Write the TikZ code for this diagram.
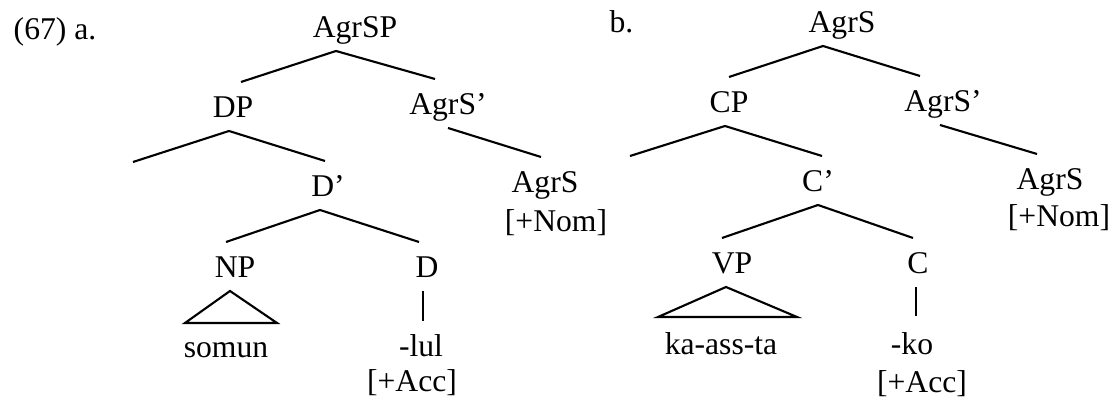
\documentclass[tikz,border=0pt]{standalone}
\usepackage{fontspec}
\setmainfont{Liberation Serif}
\usetikzlibrary{positioning, calc}

\begin{document}
\begin{tikzpicture}[
  font=\fontsize{9}{10.8}\selectfont,
  cat/.style={
    inner sep=0pt, outer sep=0pt, anchor=base,
    text height=3.6mm, text depth=1.3mm
  },
  leaf/.style={inner sep=0pt, anchor=base},
  branch/.style={line width=0.6pt, black},
]

% Frame
\useasboundingbox (0,0) rectangle (11.17,4.02);

% =============================================
% (67) a.
% =============================================
\node[leaf] (ex-a) at (0.55,3.62) {(67) a.};

\node[cat] (agrsp) at (3.55,3.64) {AgrSP};
\node[cat] (dp) at (2.33,2.84) {DP};
\node[cat] (agrsbar-a) at (4.48,2.87) {AgrS'};
\coordinate (spec-a) at (1.33,2.40);
\node[cat] (dbar) at (3.28,2.05) {D'};
\node[cat] (agrs-a) at (5.45,2.09) {AgrS};
\node[leaf] (nom-a) at (5.56,1.70) {[+Nom]};
\node[cat] (np) at (2.35,1.24) {NP};
\node[cat] (d) at (4.27,1.24) {D};
\node[leaf] (somun) at (2.26,0.44) {somun};
\node[leaf] (lul) at (4.21,0.45) {-lul};
\node[leaf] (acc-a) at (4.12,0.10) {[+Acc]};

\draw[branch] ([xshift=-1.9mm]agrsp.south) -- ([xshift=0.8mm]dp.north);
\draw[branch] ([xshift=-1.9mm]agrsp.south) -- ([xshift=-1.3mm]agrsbar-a.north);
\draw[branch] ([xshift=-0.4mm]dp.south) -- (spec-a);
\draw[branch] ([xshift=-0.4mm]dp.south) -- ([xshift=-0.3mm]dbar.north);
\draw[branch] (agrsbar-a.south) -- ([xshift=-0.4mm]agrs-a.north);
\draw[branch] ([xshift=-0.8mm]dbar.south) -- ([xshift=-0.9mm]np.north);
\draw[branch] ([xshift=-0.8mm]dbar.south) -- ([xshift=-0.8mm]d.north);

% triangle + head line
\draw[branch] ([xshift=-0.5mm]np.south) -- ++(-0.45,-0.32) -- ++(0.92,0) -- cycle;
\draw[branch] ([xshift=-0.4mm]d.south) -- ++(0,-0.30);

% =============================================
% b.
% =============================================
\node[leaf] (ex-b) at (6.215,3.69) {b.};

\node[cat] (agrs-b) at (8.42,3.69) {AgrS};
\node[cat] (cp) at (7.29,2.89) {CP};
\node[cat] (agrsbar-b) at (9.43,2.90) {AgrS'};
\coordinate (spec-b) at (6.30,2.46);
\node[cat] (cbar) at (8.18,2.10) {C'};
\node[cat] (agrs-c) at (10.50,2.12) {AgrS};
\node[leaf] (nom-b) at (10.59,1.75) {[+Nom]};
\node[cat] (vp) at (7.32,1.28) {VP};
\node[cat] (c) at (9.18,1.28) {C};
\node[leaf] (kaassta) at (7.21,0.47) {ka-ass-ta};
\node[leaf] (ko) at (9.12,0.47) {-ko};
\node[leaf] (acc-b) at (9.22,0.09) {[+Acc]};

\draw[branch] ([xshift=-1.9mm]agrs-b.south) -- (cp.north);
\draw[branch] ([xshift=-1.9mm]agrs-b.south) -- ([xshift=-2.3mm]agrsbar-b.north);
\draw[branch] ([xshift=-0.4mm]cp.south) -- (spec-b);
\draw[branch] ([xshift=-0.4mm]cp.south) -- ([xshift=0.4mm]cbar.north);
\draw[branch] ([xshift=-0.3mm]agrsbar-b.south) -- ([xshift=-1.3mm]agrs-c.north);
\draw[branch] (cbar.south) -- ([xshift=-1mm]vp.north);
\draw[branch] (cbar.south) -- ([xshift=-0.5mm]c.north);

% triangle + head line
\draw[branch] ([xshift=-0.6mm]vp.south) -- ++(-0.68,-0.30) -- ++(1.39,0) -- cycle;
\draw[branch] ([xshift=-0.2mm]c.south) -- ++(0,-0.29);

\end{tikzpicture}
\end{document}
